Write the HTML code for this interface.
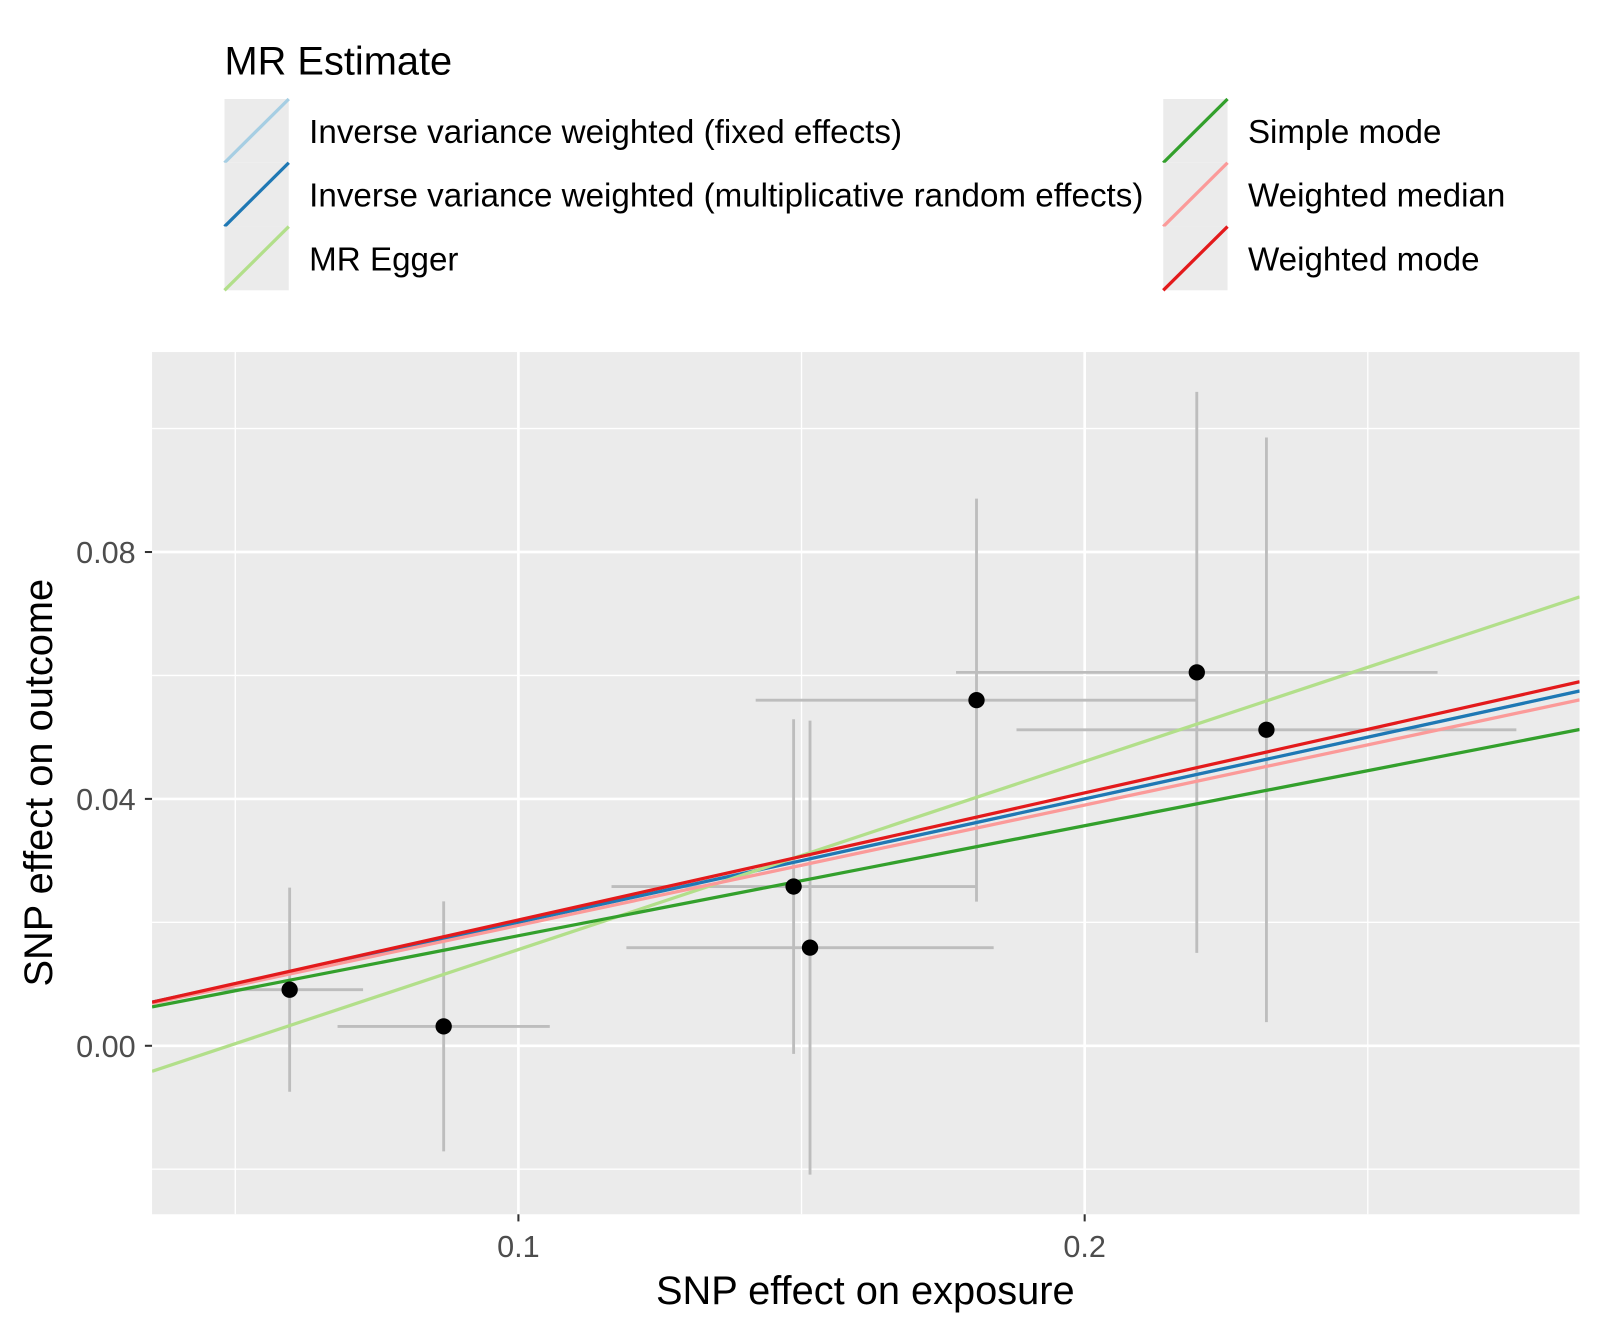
<!DOCTYPE html>
<html><head><meta charset="utf-8"><style>
body{margin:0;background:#fff;font-family:"Liberation Sans",Arial,sans-serif}
</style></head><body>
<svg id="chart" width="1600" height="1333" xmlns="http://www.w3.org/2000/svg" font-family="Liberation Sans, Arial, sans-serif">
<rect width="1600" height="1333" fill="#fff"/>
<g id="root" transform="scale(1.0204)">
<g id="legend">
<text x="220" y="73" font-size="39" fill="#000">MR Estimate</text>
</g>
<rect x="149" y="345" width="1399" height="845" fill="#ebebeb"/>
<g id="grid"></g><g id="errs"></g><g id="lines"></g><g id="pts"></g><g id="axes"></g>
<text x="848" y="1278" font-size="39" text-anchor="middle">SNP effect on exposure</text>
<text transform="translate(51,767) rotate(-90)" font-size="39" text-anchor="middle">SNP effect on outcome</text>
</g>
</svg>
<script>
const xs=[0.0596,0.0868,0.1486,0.1515,0.1809,0.2198,0.2321];
const ys=[0.00909,0.00314,0.0258,0.0159,0.0560,0.0605,0.0512];
const xse=[0.01297,0.01874,0.03216,0.03243,0.0390,0.04252,0.04414];
const yse=[0.01653,0.02025,0.02711,0.03678,0.03264,0.04545,0.04736];
const methods=["Inverse variance weighted (fixed effects)","Inverse variance weighted (multiplicative random effects)","MR Egger","Simple mode","Weighted median","Weighted mode"];
const colors=["#a6cee3","#1f78b4","#b2df8a","#33a02c","#fb9a99","#e31a1c"];
const slopes=[0.2,0.2,0.3049,0.1783,0.195,0.2059];
const intercepts=[0,0,-0.0149,0,0,-0.0002];
const xTicks=[0.1,0.2], xTickLabels=["0.1","0.2"];
const yTicks=[0,0.04,0.08], yTickLabels=["0.00","0.04","0.08"];
const xMinor=[0.05,0.15,0.25], yMinor=[-0.02,0.02,0.06,0.1];
const NS="http://www.w3.org/2000/svg";
const X0=149,X1=1548,Y0=345,Y1=1190,xmin=0.0353,xmax=0.2874,ymin=-0.0273,ymax=0.1124;
const sx=v=>X0+(v-xmin)/(xmax-xmin)*(X1-X0);
const sy=v=>Y1-(v-ymin)/(ymax-ymin)*(Y1-Y0);
function mk(tag,attrs,parent){const e=document.createElementNS(NS,tag);for(const k in attrs)e.setAttribute(k,attrs[k]);parent.appendChild(e);return e;}
const grid=document.getElementById('grid'),axes=document.getElementById('axes');
xMinor.forEach(v=>{const l=mk('line',{x1:sx(v),x2:sx(v),y1:Y0,y2:Y1,stroke:'#fff','stroke-width':1.3},grid);

});
yMinor.forEach(v=>{const l=mk('line',{x1:X0,x2:X1,y1:sy(v),y2:sy(v),stroke:'#fff','stroke-width':1.3},grid);

});
xTicks.forEach((v,i)=>{const l=mk('line',{x1:sx(v),x2:sx(v),y1:Y0,y2:Y1,stroke:'#fff','stroke-width':2.6},grid);


mk('line',{x1:sx(v),x2:sx(v),y1:Y1,y2:Y1+7,stroke:'#333','stroke-width':2},axes);
const t=mk('text',{x:sx(v),y:1232,'font-size':30,fill:'#4d4d4d','text-anchor':'middle'},axes);t.textContent=xTickLabels[i];

});
yTicks.forEach((v,i)=>{const l=mk('line',{x1:X0,x2:X1,y1:sy(v),y2:sy(v),stroke:'#fff','stroke-width':2.6},grid);


mk('line',{x1:X0-7,x2:X0,y1:sy(v),y2:sy(v),stroke:'#333','stroke-width':2},axes);
const t=mk('text',{x:X0-16,y:sy(v)+11,'font-size':30,fill:'#4d4d4d','text-anchor':'end'},axes);t.textContent=yTickLabels[i];

});
const errs=document.getElementById('errs'),pts=document.getElementById('pts'),lines=document.getElementById('lines');
xs.forEach((x,i)=>{const y=ys[i];
const h=mk('line',{x1:sx(x-xse[i]),x2:sx(x+xse[i]),y1:sy(y),y2:sy(y),stroke:'#bdbdbd','stroke-width':2.8},errs);


const v=mk('line',{x1:sx(x),x2:sx(x),y1:sy(y-yse[i]),y2:sy(y+yse[i]),stroke:'#bdbdbd','stroke-width':2.8},errs);


const c=mk('circle',{cx:sx(x),cy:sy(y),r:8,fill:'#000'},pts);

});
const svg=document.getElementById('chart');
const clip=mk('clipPath',{id:'pc'},svg);mk('rect',{x:X0,y:Y0,width:X1-X0,height:Y1-Y0},clip);
lines.setAttribute('clip-path','url(#pc)');
const leg=document.getElementById('legend');
methods.forEach((m,i)=>{const l=mk('line',{x1:sx(xmin),x2:sx(xmax),y1:sy(intercepts[i]+slopes[i]*xmin),y2:sy(intercepts[i]+slopes[i]*xmax),stroke:colors[i],'stroke-width':3.2},lines);


const col=i<3?0:1,row=i%3;const kx=col?1140:220,ky=97+row*62.5;
const g=mk('g',{},leg);


mk('rect',{x:kx,y:ky,width:63,height:62.5,fill:'#ebebeb'},g);
mk('line',{x1:kx,y1:ky+62.5,x2:kx+63,y2:ky,stroke:colors[i],'stroke-width':3.2},g);
const t=mk('text',{x:kx+83,y:ky+43,'font-size':32.5,fill:'#000'},g);t.textContent=m;});
</script>
</body></html>
